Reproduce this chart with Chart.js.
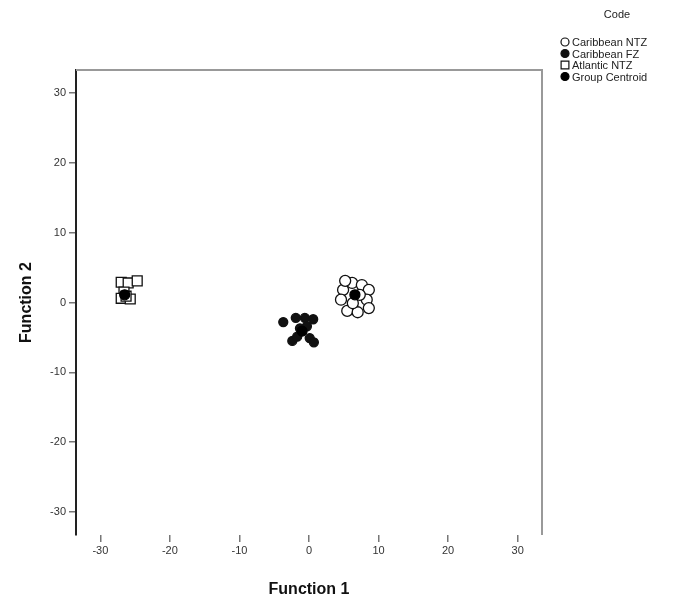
<!DOCTYPE html>
<html>
<head>
<meta charset="utf-8">
<title>Canonical Discriminant Functions</title>
<script src="https://cdn.jsdelivr.net/npm/chart.js@4.4.1/dist/chart.umd.min.js"></script>
<style>
  html, body { margin: 0; padding: 0; background: #fff; }
  #wrap { width: 699px; height: 608px; position: relative; }
</style>
</head>
<body>
<div id="wrap"><canvas id="plot" width="699" height="608"></canvas></div>
<script>
// discriminant scores per group: [function 1, function 2]
const caribbeanNTZ = [
    [4.9, 1.8], [6.2, 2.8], [7.6, 2.5], [8.6, 1.8], [4.6, 0.4], [8.3, 0.4],
    [5.5, -1.2], [7.0, -1.4], [8.6, -0.8], [6.3, -0.1], [5.2, 3.1], [7.3, 1.1]
];
const caribbeanFZ = [
    [-3.7, -2.8], [-1.9, -2.2], [-0.6, -2.2], [-1.3, -3.7], [-2.4, -5.5],
    [-1.7, -4.9], [0.1, -5.1], [0.7, -5.7], [-0.3, -3.4], [0.6, -2.4]
];
const atlanticNTZ = [
    [-27.0, 2.9], [-26.0, 2.8], [-26.6, 1.5], [-27.0, 0.6], [-25.7, 0.5],
    [-24.7, 3.1], [-26.3, 0.9]
];
const groupCentroids = [
    [6.6, 1.1], [-1.0, -4.1], [-26.5, 1.1]
];

const legendTitle = 'Code';
const groupLabels = ['Caribbean NTZ', 'Caribbean FZ', 'Atlantic NTZ', 'Group Centroid'];
const tickValues = [-30, -20, -10, 0, 10, 20, 30];

const toPoints = arr => arr.map(p => ({ x: p[0], y: p[1] }));

const markerStyles = [
    { pointStyle: 'circle', radius: 5.5, legendRadius: 4, fill: '#ffffff', stroke: '#111' },
    { pointStyle: 'circle', radius: 4.5, legendRadius: 4, fill: '#111', stroke: '#111' },
    { pointStyle: 'rect', radius: 7, legendRadius: 5.5, fill: '#ffffff', stroke: '#111' },
    { pointStyle: 'circle', radius: 5, legendRadius: 4, fill: '#000', stroke: '#000' }
];

const seriesData = [caribbeanNTZ, caribbeanFZ, atlanticNTZ, groupCentroids];
// centroids on top of the group points
const drawOrder = [2, 1, 3, 0];

const datasets = seriesData.map((arr, i) => ({
    label: groupLabels[i],
    data: toPoints(arr),
    order: drawOrder[i],
    pointStyle: markerStyles[i].pointStyle,
    pointRadius: markerStyles[i].radius,
    pointBackgroundColor: markerStyles[i].fill,
    pointBorderColor: markerStyles[i].stroke,
    pointBorderWidth: 1.3,
    showLine: false
}));

// top and right edges of the plot frame (SPSS style, no bottom edge)
const frameLines = {
    id: 'frameLines',
    afterDraw(chart) {
        const { ctx, chartArea: a } = chart;
        ctx.save();
        ctx.strokeStyle = '#999';
        ctx.lineWidth = 2;
        ctx.beginPath();
        ctx.moveTo(a.left, a.top);
        ctx.lineTo(a.right, a.top);
        ctx.lineTo(a.right, a.bottom);
        ctx.stroke();
        ctx.restore();
    }
};

// legend block at the top right
const codeLegend = {
    id: 'codeLegend',
    afterDraw(chart) {
        const ctx = chart.ctx;
        ctx.save();
        ctx.fillStyle = '#222';
        ctx.font = '11px "Liberation Sans", Arial, sans-serif';
        ctx.textAlign = 'center';
        ctx.textBaseline = 'middle';
        ctx.fillText(legendTitle, 617, 15);
        ctx.textAlign = 'left';
        groupLabels.forEach((label, i) => {
            const y = 42 + i * 11.5;
            const s = markerStyles[i];
            ctx.fillStyle = s.fill;
            ctx.strokeStyle = s.stroke;
            ctx.lineWidth = 1.2;
            Chart.helpers.drawPoint(ctx, {
                pointStyle: s.pointStyle,
                radius: s.legendRadius,
                borderWidth: 1.2
            }, 565, y);
            ctx.fillStyle = '#222';
            ctx.fillText(label, 572, y + 1);
        });
        ctx.restore();
    }
};

new Chart(document.getElementById('plot'), {
    type: 'scatter',
    data: { datasets: datasets },
    options: {
        responsive: false,
        animation: false,
        layout: { padding: { top: 70, right: 157, left: 0, bottom: 0 } },
        plugins: {
            legend: { display: false },
            tooltip: { enabled: false }
        },
        scales: {
            x: {
                type: 'linear',
                min: -33.5,
                max: 33.5,
                afterBuildTicks: scale => { scale.ticks = tickValues.map(v => ({ value: v })); },
                afterFit: scale => { scale.height = 73; },
                border: { display: false },
                grid: {
                    drawOnChartArea: false,
                    drawTicks: true,
                    tickLength: 7,
                    offset: false,
                    color: '#777',
                    lineWidth: 1.5
                },
                ticks: {
                    color: '#333',
                    padding: 2,
                    font: { family: '"Liberation Sans", Arial, sans-serif', size: 11 }
                },
                title: {
                    display: true,
                    text: 'Function 1',
                    color: '#111',
                    padding: { top: 10, bottom: 9 },
                    font: { family: '"Liberation Sans", Arial, sans-serif', size: 16, weight: 'bold' }
                }
            },
            y: {
                type: 'linear',
                min: -33.3,
                max: 33.3,
                afterBuildTicks: scale => { scale.ticks = tickValues.map(v => ({ value: v })); },
                afterFit: scale => { scale.width = 76; },
                border: { display: true, color: '#222', width: 2 },
                grid: {
                    drawOnChartArea: false,
                    drawTicks: true,
                    tickLength: 7,
                    color: '#777',
                    lineWidth: 1.5
                },
                ticks: {
                    color: '#333',
                    padding: 3,
                    font: { family: '"Liberation Sans", Arial, sans-serif', size: 11 }
                },
                title: {
                    display: true,
                    text: 'Function 2',
                    color: '#111',
                    padding: { top: 17, bottom: 0 },
                    font: { family: '"Liberation Sans", Arial, sans-serif', size: 16, weight: 'bold' }
                }
            }
        }
    },
    plugins: [frameLines, codeLegend]
});
</script>
</body>
</html>
